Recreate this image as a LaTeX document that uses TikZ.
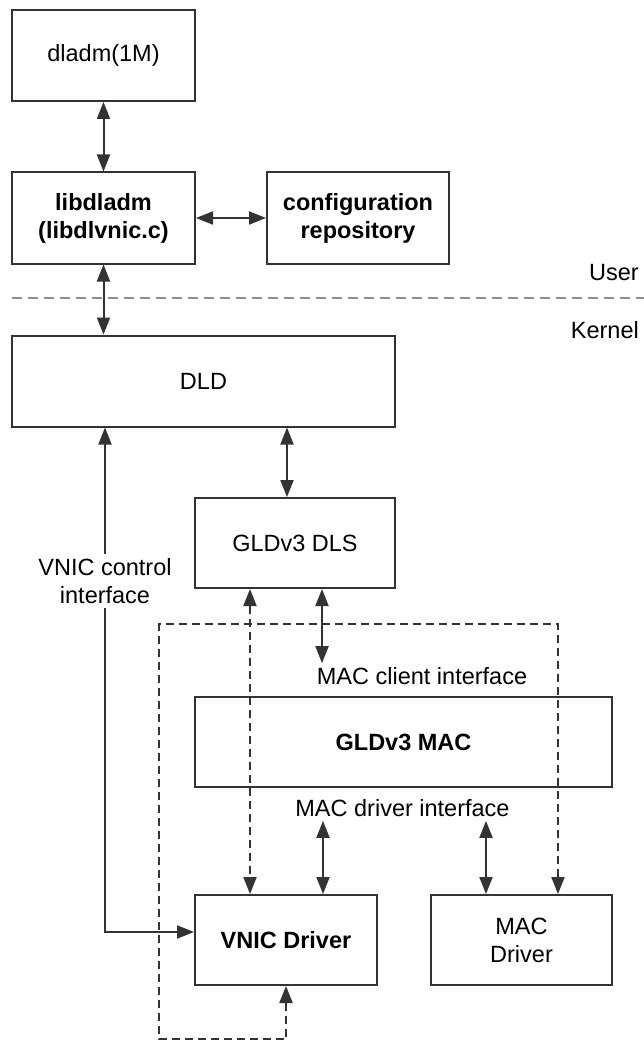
\documentclass[tikz,border=0pt]{standalone}
\usepackage{fontspec}
\setmainfont{Liberation Sans}
\usetikzlibrary{arrows.meta}
\definecolor{boxcolor}{gray}{0.2}
\definecolor{sepcolor}{gray}{0.55}
\newcommand\diagfont{\fontsize{23.5}{28}\selectfont}
\tikzset{
	box/.style = {draw=boxcolor, line width=2pt, inner sep=0pt, align=center, minimum height=91pt, font=\diagfont},
	boldbox/.style = {box, font=\diagfont\bfseries},
	caption/.style = {inner xsep=1pt, inner ysep=4pt, align=center, font=\diagfont},
	tip/.tip = {Triangle[length=17pt,width=13pt]},
	link/.style = {tip-tip, line width=2pt, draw=boxcolor},
	dashlink/.style = {link, dash pattern=on 8pt off 5pt},
}

\begin{document}
\begin{tikzpicture}[x=1pt, y=-1pt]
	\useasboundingbox (0,0) rectangle (644,1043);
	% user space
	\node[box, minimum width=183pt] (dladm) at (103.5,55.5) {dladm(1M)};
	\node[boldbox, minimum width=183pt] (libdladm) at (103.5,218) {libdladm\\(libdlvnic.c)};
	\node[boldbox, minimum width=182pt] (config) at (358,218) {configuration\\repository};
	\draw[link] (dladm) -- (libdladm);
	\draw[link] (libdladm) -- (config);
	% user / kernel boundary
	\coordinate (sepleft) at (12,298);
	\coordinate (sepright) at (644,298);
	\draw[sepcolor, line width=2.2pt, dash pattern=on 10pt off 6pt] (sepleft) -- (sepright);
	\node[caption, anchor=east] (user) at (640,273) {User};
	\node[caption, anchor=east] (kernel) at (640,330) {Kernel};
	% kernel
	\node[box, minimum width=383pt] (dld) at (203.5,381) {DLD};
	\node[box, minimum width=200pt, minimum height=90pt] (dls) at (295,543) {GLDv3 DLS};
	\node[boldbox, minimum width=417pt, minimum height=90pt] (mac) at (403.5,742) {GLDv3 MAC};
	\node[boldbox, minimum width=182pt, minimum height=90pt] (vnic) at (286,940) {VNIC Driver};
	\node[box, minimum width=181pt, minimum height=90pt] (macdrv) at (521.5,940) {MAC\\Driver};
	\node[caption] (clientif) at (422,676) {MAC client interface};
	\node[caption] (driverif) at (402.5,808) {MAC driver interface};
	\node[caption] (ctrlif) at (105,581) {VNIC control\\interface};
	% connectors
	\coordinate (dlsin) at ([xshift=-8pt]dls.north);
	\coordinate (dlsleft) at ([xshift=-45pt]dls.south);
	\coordinate (dlsright) at ([xshift=27pt]dls.south);
	\coordinate (vnicin) at ([xshift=37pt]vnic.north);
	\coordinate (vnicside) at ([yshift=8pt]vnic.west);
	\coordinate (macdrvin) at ([xshift=-35.5pt]macdrv.north);
	\coordinate (macdrvdash) at ([xshift=36.5pt]macdrv.north);
	\coordinate (loopleft) at (159,1039);
	\coordinate (looptop) at (159,624);
	\draw[link] (libdladm.south) -- (libdladm.south |- dld.north);
	\draw[link] (dld.south -| dlsin) -- (dlsin);
	\draw[link, -tip] (ctrlif.north) -- (dld.south -| ctrlif);
	\draw[link, -tip] (ctrlif.south) -- (ctrlif |- vnicside) -- (vnicside);
	\draw[dashlink] (dlsleft) -- (dlsleft |- vnic.north);
	\draw[link] (dlsright) -- (dlsright |- clientif.north);
	\draw[link] (driverif.south -| vnicin) -- (vnicin);
	\draw[link] (driverif.south -| macdrvin) -- (macdrvin);
	\draw[dashlink] (vnic.south) -- (vnic.south |- loopleft) -- (loopleft) -- (looptop) -- (looptop -| macdrvdash) -- (macdrvdash);
\end{tikzpicture}
\end{document}
